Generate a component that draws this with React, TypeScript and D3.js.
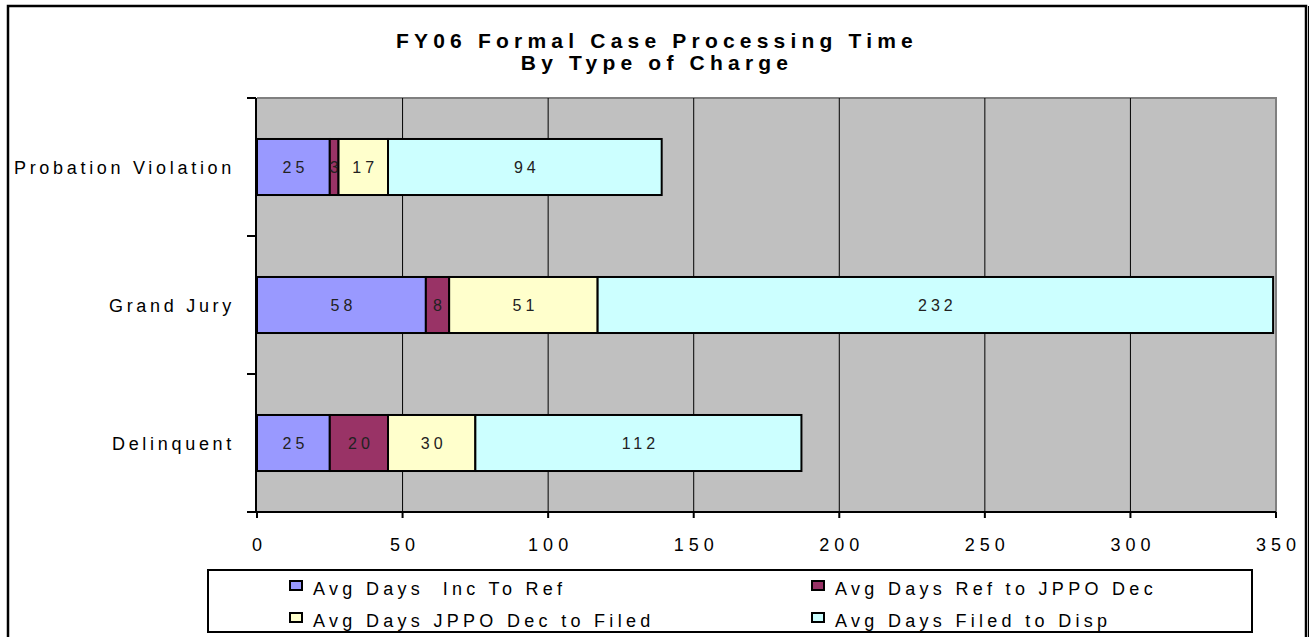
import React from "react";
import * as d3 from "d3";

const categories = ["Probation Violation", "Grand Jury", "Delinquent"];
const seriesNames = [
  "Avg Days  Inc To Ref",
  "Avg Days Ref to JPPO Dec",
  "Avg Days JPPO Dec to Filed",
  "Avg Days Filed to Disp",
];
const incToRef = [25, 58, 25];
const refToDec = [3, 8, 20];
const decToFiled = [17, 51, 30];
const filedToDisp = [94, 232, 112];
const xTicks = [0, 50, 100, 150, 200, 250, 300, 350];

const colors = ["#9999FF", "#993366", "#FFFFCC", "#CCFFFF"];

const width = 1309;
const height = 637;
const plot = { left: 257, right: 1276, top: 98, bottom: 512 };
const font = "'Liberation Sans', Arial, sans-serif";

const App = () => {
  const series = [incToRef, refToDec, decToFiled, filedToDisp];
  const rows = categories.map((c, i) => {
    const r: any = { cat: c };
    series.forEach((s, k) => (r["s" + k] = s[i]));
    return r;
  });
  const stack = d3.stack().keys(series.map((_, k) => "s" + k))(rows);

  const x = d3.scaleLinear().domain([0, 350]).range([plot.left, plot.right]);
  const y = d3
    .scaleBand()
    .domain(categories)
    .range([plot.top, plot.bottom])
    .paddingInner(0.594)
    .paddingOuter(0.297);
  const yStep = y.step();

  return (
    <svg
      width={width}
      height={height}
      style={{ position: "absolute", left: 0, top: 0, fontFamily: font }}
    >
      <rect x={0} y={0} width={width} height={height} fill="#fff" />
      {/* outer frame */}
      <rect x={8} y={6} width={1298} height={640} fill="none" stroke="#000" strokeWidth={2.5} />
      <line x1={1308.5} x2={1308.5} y1={6} y2={height} stroke="#000" strokeWidth={1} />

      {/* title */}
      <text x={657} y={48} textAnchor="middle" fontSize={21} fontWeight="bold" letterSpacing={5.2}>
        FY06 Formal Case Processing Time
      </text>
      <text x={657} y={70} textAnchor="middle" fontSize={21} fontWeight="bold" letterSpacing={5.2}>
        By Type of Charge
      </text>

      {/* plot area */}
      <rect
        x={plot.left}
        y={plot.top}
        width={plot.right - plot.left}
        height={plot.bottom - plot.top}
        fill="#C0C0C0"
      />
      <polyline
        points={`${plot.left},${plot.top} ${plot.right},${plot.top} ${plot.right},${plot.bottom}`}
        fill="none"
        stroke="#808080"
        strokeWidth={2}
      />
      {xTicks.slice(1, -1).map((t) => (
        <line key={t} x1={x(t)} x2={x(t)} y1={plot.top} y2={plot.bottom} stroke="#000" strokeWidth={1} />
      ))}

      {/* bars */}
      {stack.map((layer, k) =>
        layer.map((d, i) => {
          const x0 = x(d[0]);
          const x1 = x(d[1]);
          const yy = y(categories[i])!;
          return (
            <g key={k + "-" + i}>
              <rect
                x={x0}
                y={yy}
                width={x1 - x0}
                height={y.bandwidth()}
                fill={colors[k]}
                stroke="#000"
                strokeWidth={2}
              />
              <text
                x={(x0 + x1) / 2 + 2}
                y={yy + y.bandwidth() / 2 + 6}
                textAnchor="middle"
                fontSize={16}
                letterSpacing={4}
                fill="#222"
              >
                {series[k][i]}
              </text>
            </g>
          );
        })
      )}

      {/* y axis */}
      <line x1={256} x2={256} y1={plot.top} y2={plot.bottom} stroke="#000" strokeWidth={2} />
      {d3.range(categories.length + 1).map((i) => (
        <line
          key={i}
          x1={247}
          x2={256}
          y1={plot.top + i * yStep}
          y2={plot.top + i * yStep}
          stroke="#000"
          strokeWidth={2}
        />
      ))}
      {categories.map((c) => (
        <text
          key={c}
          x={235}
          y={y(c)! + y.bandwidth() / 2 + 7}
          textAnchor="end"
          fontSize={18}
          letterSpacing={3.7}
        >
          {c}
        </text>
      ))}

      {/* x axis */}
      <line x1={247} x2={plot.right} y1={plot.bottom} y2={plot.bottom} stroke="#000" strokeWidth={2} />
      {xTicks.map((t) => (
        <g key={t}>
          <line x1={x(t)} x2={x(t)} y1={plot.bottom} y2={plot.bottom + 6} stroke="#000" strokeWidth={2} />
          <text x={x(t) + 2.5} y={551} textAnchor="middle" fontSize={18} letterSpacing={5}>
            {t}
          </text>
        </g>
      ))}

      {/* legend */}
      <rect x={208} y={570} width={1044} height={62} fill="#fff" stroke="#000" strokeWidth={2} />
      {seriesNames.map((name, k) => {
        const col = k % 2;
        const row = Math.floor(k / 2);
        const lx = col === 0 ? 290 : 812;
        const ly = row === 0 ? 595 : 627;
        return (
          <g key={name}>
            <rect x={lx} y={ly - 14} width={12} height={9} fill={colors[k]} stroke="#000" strokeWidth={2} />
            <text x={lx + 23} y={ly} fontSize={18} letterSpacing={4.3} style={{ whiteSpace: "pre" }}>
              {name}
            </text>
          </g>
        );
      })}
    </svg>
  );
};

export default App;
